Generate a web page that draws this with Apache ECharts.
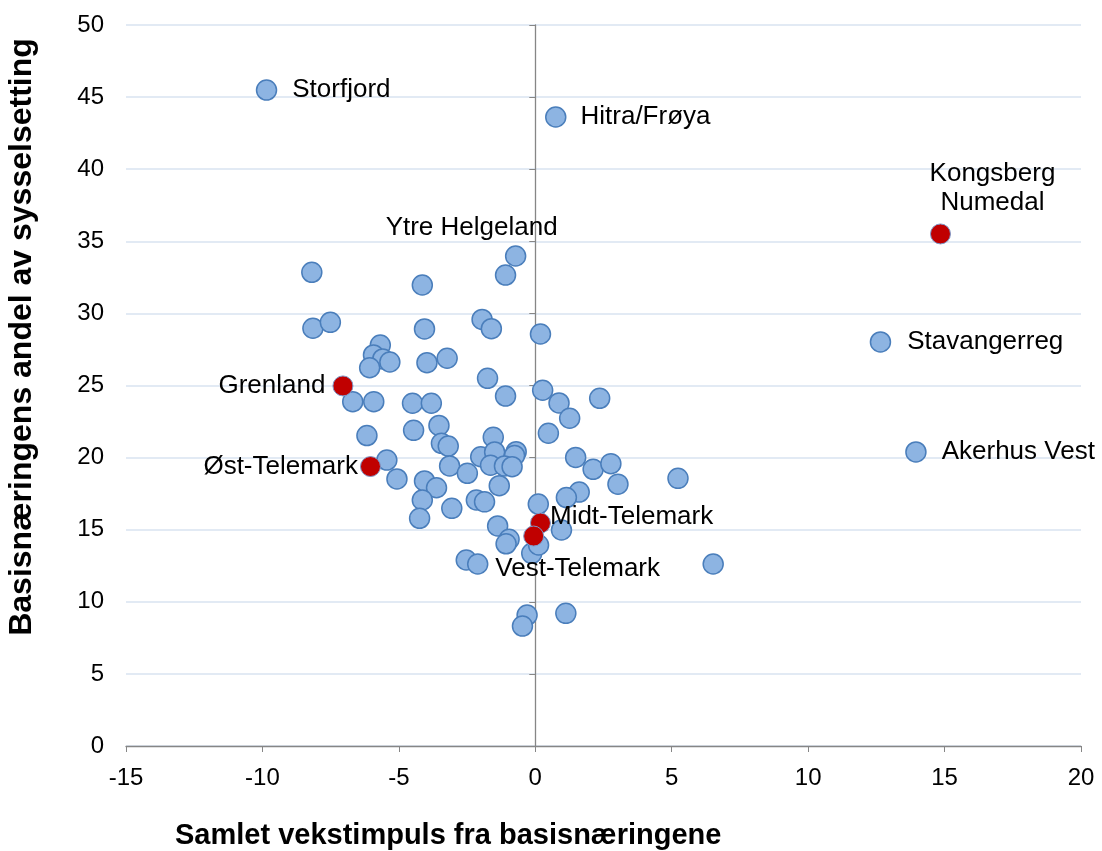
<!DOCTYPE html>
<html style="height: 100%">
<head>
<meta charset="UTF-8">
<title>Basisnæringer</title>
<script src="https://cdn.jsdelivr.net/npm/echarts@6.0.0/dist/echarts.min.js"></script>
</head>
<body style="height: 100%; margin: 0; background: #fff">
<div id="chart" style="width:1102px;height:851px"></div>
<script type="text/javascript">
// regions without labels (blue)
var blueX = [-8.19, -4.14, -1.09, -8.15, -7.51, -1.95, -1.61, -4.06, 0.19, -5.68,
	-5.93, -5.59, -5.33, -6.07, -3.97, -3.23, -1.75, -1.09, 0.27, -6.69,
	-5.92, -4.50, -3.81, 0.87, 2.36, 1.26, 0.48, -4.46, -3.53, -6.17,
	-3.44, -3.19, -1.54, -5.44, -5.07, -4.06, -3.62, -4.14, -4.24, -3.06,
	-3.14, -2.49, -2.00, -1.49, -1.64, -0.70, -0.76, -1.13, -0.85, -1.32,
	-2.16, -1.86, -1.38, -0.96, -1.07, -2.53, -2.11, 0.11, 0.96, -0.13,
	0.12, -0.30, -0.47, 1.12, 6.52, 1.48, 2.12, 2.77, 3.03, 1.61,
	1.14, 5.23];
var blueY = [32.85, 31.97, 32.66, 28.97, 29.38, 29.58, 28.94, 28.92, 28.57, 27.81,
	27.12, 26.84, 26.63, 26.23, 26.58, 26.89, 25.50, 24.27, 24.67, 23.88,
	23.88, 23.77, 23.77, 23.79, 24.11, 22.73, 21.69, 21.89, 22.23, 21.53,
	20.99, 20.80, 21.41, 19.83, 18.52, 18.38, 17.91, 17.06, 15.79, 16.48,
	19.42, 18.91, 20.06, 20.39, 19.47, 20.41, 20.15, 19.42, 19.37, 18.05,
	17.06, 16.93, 15.26, 14.33, 14.02, 12.90, 12.62, 16.78, 14.98, 13.36,
	13.94, 9.08, 8.32, 9.20, 12.62, 20.01, 19.19, 19.58, 18.16, 17.61,
	17.23, 18.56];

// named blue regions
var namedBlue = ['Storfjord', 'Hitra/Frøya', 'Ytre Helgeland', 'Stavangerreg', 'Akerhus Vest'];
var namedBlueX = [-9.85, 0.75, -0.72, 12.65, 13.95];
var namedBlueY = [45.49, 43.62, 33.98, 28.02, 20.39];

// highlighted regions (red)
var redNames = ['Kongsberg\nNumedal', 'Grenland', 'Øst-Telemark', 'Midt-Telemark', 'Vest-Telemark'];
var redX = [14.85, -7.05, -6.04, 0.19, -0.06];
var redY = [35.51, 24.97, 19.38, 15.46, 14.56];

var xTicks = [-15, 20, 5];   // min, max, step
var yTicks = [0, 50, 5];

// where each label sits relative to its point
var labelPlace = {
	'Storfjord': {position: 'right', distance: 15},
	'Hitra/Frøya': {position: 'right', distance: 14},
	'Ytre Helgeland': {position: 'inside', offset: [-44, -28]},
	'Stavangerreg': {position: 'right', distance: 16},
	'Akerhus Vest': {position: 'right', distance: 15},
	'Kongsberg\nNumedal': {position: 'inside', offset: [52, -46], align: 'center', lineHeight: 29},
	'Grenland': {position: 'left', distance: 7},
	'Øst-Telemark': {position: 'left', distance: 2},
	'Midt-Telemark': {position: 'right', distance: 0, offset: [-1, -6]},
	'Vest-Telemark': {position: 'inside', offset: [44, 33]}
};

var FONT = 'Liberation Sans, Arial, sans-serif';

function makeData(xs, ys, names){
	var out = [];
	for(var i=0;i<xs.length;i++){
		var item = {value: [xs[i], ys[i]]};
		if(names){
			var lp = labelPlace[names[i]];
			item.name = names[i];
			item.label = Object.assign({show: true, formatter: names[i]}, lp);
		}
		out.push(item);
	}
	return out;
}

var labelStyle = {
	color: '#000',
	fontFamily: FONT,
	fontSize: 26
};

var dom = document.getElementById('chart');
var myChart = echarts.init(dom);

var option = {
	animation: false,
	grid: {left: 126, right: 21, top: 25, bottom: 105, containLabel: false},
	xAxis: {
		type: 'value',
		min: xTicks[0], max: xTicks[1], interval: xTicks[2],
		axisLine: {show: true, onZero: true, lineStyle: {color: '#868686', width: 1.3}},
		axisTick: {show: true, length: 6, lineStyle: {color: '#868686'}},
		axisLabel: {color: '#000', fontFamily: FONT, fontSize: 24, margin: 20},
		splitLine: {show: false}
	},
	yAxis: [{
		type: 'value',
		position: 'left',
		min: yTicks[0], max: yTicks[1], interval: yTicks[2],
		axisLine: {show: false, onZero: false},
		axisTick: {show: false},
		axisLabel: {color: '#000', fontFamily: FONT, fontSize: 24, margin: 22},
		splitLine: {show: true, lineStyle: {color: '#D9E3F1', width: 1.5}}
	}, {
		type: 'value',
		position: 'left',
		min: yTicks[0], max: yTicks[1], interval: yTicks[2],
		axisLine: {show: true, onZero: true, lineStyle: {color: '#868686', width: 1.3}},
		axisTick: {show: true, length: 6, lineStyle: {color: '#868686'}},
		axisLabel: {show: false},
		splitLine: {show: false}
	}],
	series: [{
		type: 'scatter',
		yAxisIndex: 0,
		symbolSize: 20,
		itemStyle: {color: '#8DB4E2', borderColor: '#4A7EBB', borderWidth: 1.5, opacity: 1},
		label: labelStyle,
		data: makeData(blueX, blueY).concat(makeData(namedBlueX, namedBlueY, namedBlue))
	}, {
		type: 'scatter',
		yAxisIndex: 0,
		symbolSize: 20,
		itemStyle: {color: '#C00000', borderColor: '#7E98C8', borderWidth: 1, opacity: 1},
		label: labelStyle,
		data: makeData(redX, redY, redNames)
	}],
	graphic: [{
		type: 'text',
		left: 175, top: 821,
		style: {text: 'Samlet vekstimpuls fra basisnæringene', fill: '#000',
			font: 'bold 29px ' + FONT}
	}, {
		type: 'text',
		x: 22, y: 337,
		rotation: Math.PI / 2,
		style: {text: 'Basisnæringens andel av sysselsetting', fill: '#000',
			font: 'bold 32px ' + FONT, align: 'center', verticalAlign: 'middle'}
	}]
};

myChart.setOption(option, true);
</script>
</body>
</html>
